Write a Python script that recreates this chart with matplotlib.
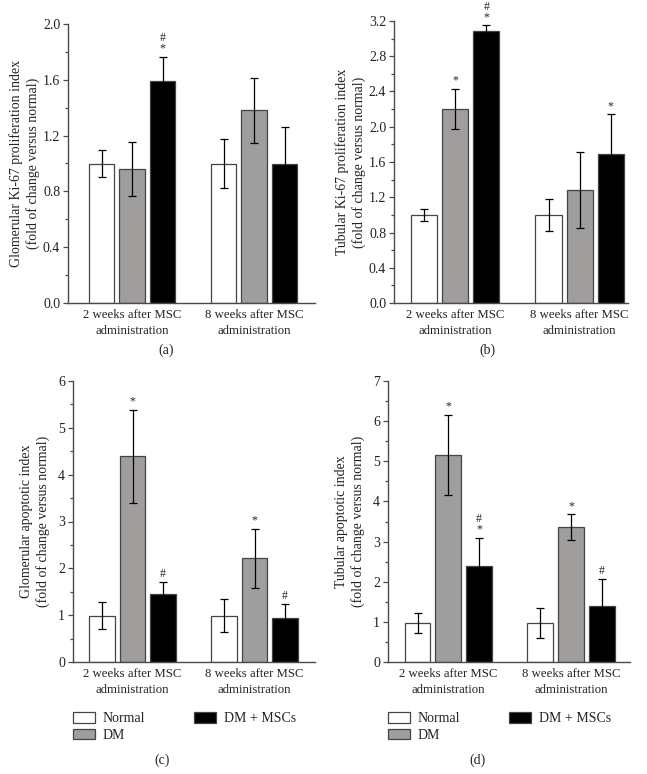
import matplotlib
matplotlib.use("Agg")
import matplotlib.pyplot as plt
from matplotlib.patches import Patch
from matplotlib.ticker import MultipleLocator, FormatStrFormatter

plt.rcParams.update({
    "font.family": ["Liberation Serif", "DejaVu Serif"],
    "font.size": 10,
    "text.color": "#222222",
    "axes.labelcolor": "#222222",
    "xtick.color": "#222222",
    "ytick.color": "#222222",
})

groups = ["2 weeks after MSC\nadministration", "8 weeks after MSC\nadministration"]
series = ["Normal", "DM", "DM + MSCs"]

# (a) glomerular Ki-67
a_mean = [[1.00, 1.00], [0.96, 1.38], [1.59, 1.00]]
a_err = [[0.10, 0.175], [0.195, 0.23], [0.175, 0.26]]
a_marks = [["", ""], ["", ""], ["#\n*", ""]]

# (b) tubular Ki-67
b_mean = [[1.00, 1.00], [2.20, 1.28], [3.09, 1.69]]
b_err = [[0.07, 0.18], [0.23, 0.43], [0.06, 0.45]]
b_marks = [["", ""], ["*", ""], ["#\n*", "*"]]

# (c) glomerular apoptotic
c_mean = [[0.99, 0.99], [4.39, 2.21], [1.45, 0.94]]
c_err = [[0.29, 0.36], [1.00, 0.64], [0.26, 0.30]]
c_marks = [["", ""], ["*", "*"], ["#", "#"]]

# (d) tubular apoptotic
d_mean = [[0.97, 0.97], [5.16, 3.36], [2.39, 1.40]]
d_err = [[0.26, 0.37], [1.00, 0.32], [0.71, 0.67]]
d_marks = [["", ""], ["*", "*"], ["#\n*", "#"]]

FILLS = ["white", "#a09d9d", "black"]
EDGE = "#444444"
SPINE = "#4a4a4a"

W, H = 647, 774
fig = plt.figure(figsize=(W / 100, H / 100), dpi=100)


def px_axes(left, right, top, bottom):
    return fig.add_axes([left / W, 1 - bottom / H, (right - left) / W, (bottom - top) / H])


def panel(ax, means, errs, marks, ylabel, ytop, major, minor, fmt, xlim, tag, tagxy, lpad):
    w, d = 0.21, 0.25
    for i in range(3):
        xs = [g + (i - 1) * d for g in range(2)]
        ax.bar(xs, means[i], width=w, color=FILLS[i], edgecolor=EDGE, linewidth=0.9, zorder=2)
        ax.errorbar(xs, means[i], yerr=errs[i], fmt="none", ecolor="black",
                    elinewidth=0.9, capsize=2.6, capthick=0.9, zorder=3)
        for x, m, e, mk in zip(xs, means[i], errs[i], marks[i]):
            if mk:
                ax.annotate(mk, xy=(x, m + e), xytext=(0, 1.5), textcoords="offset points",
                            ha="center", va="bottom", fontsize=8.5, linespacing=0.85)
    ax.set_xlim(*xlim)
    ax.set_ylim(0, ytop)
    ax.set_xticks([0, 1])
    ax.set_xticklabels(groups, linespacing=1.45, fontsize=9.2)
    ax.tick_params(axis="x", length=0, pad=4)
    ax.yaxis.set_major_locator(MultipleLocator(major))
    ax.yaxis.set_minor_locator(MultipleLocator(minor))
    ax.yaxis.set_major_formatter(FormatStrFormatter(fmt))
    ax.tick_params(axis="y", which="major", length=3.6, width=0.9, color=SPINE, pad=2)
    ax.tick_params(axis="y", which="minor", length=2.0, width=0.9, color=SPINE)
    for s in ("top", "right"):
        ax.spines[s].set_visible(False)
    for s in ("left", "bottom"):
        ax.spines[s].set_color(SPINE)
        ax.spines[s].set_linewidth(1.0)
    ax.set_ylabel(ylabel, linespacing=1.3, labelpad=lpad)
    fig.text(tagxy[0] / W, 1 - tagxy[1] / H, tag, ha="center", va="center", fontsize=10)


ax_a = px_axes(68, 315, 24, 303)
panel(ax_a, a_mean, a_err, a_marks,
      "Glomerular Ki-67 proliferation index\n(fold of change versus normal)",
      2.0, 0.4, 0.2, "%.1f", (-0.525, 1.50), "(a)", (166, 350), 2)

ax_b = px_axes(394, 628, 21, 303)
panel(ax_b, b_mean, b_err, b_marks,
      "Tubular Ki-67 proliferation index\n(fold of change versus normal)",
      3.2, 0.4, 0.2, "%.1f", (-0.494, 1.39), "(b)", (487, 350), 2)

ax_c = px_axes(73, 315, 381, 662)
panel(ax_c, c_mean, c_err, c_marks,
      "Glomerular apoptotic index\n(fold of change versus normal)",
      6, 1, 0.5, "%d", (-0.488, 1.496), "(c)", (162, 760), 6)

ax_d = px_axes(388, 630, 381, 662)
panel(ax_d, d_mean, d_err, d_marks,
      "Tubular apoptotic index\n(fold of change versus normal)",
      7, 1, 0.5, "%d", (-0.491, 1.48), "(d)", (478, 760), 6)

handles = [Patch(facecolor=FILLS[i], edgecolor=EDGE, linewidth=0.9) for i in range(3)]
for lx in (73, 388):
    fig.legend(handles, series, loc="upper left", bbox_to_anchor=(lx / W, 1 - 712 / H),
               ncol=2, frameon=False, borderpad=0, handlelength=1.6, handleheight=0.8,
               handletextpad=0.55, labelspacing=0.25, columnspacing=3.5, fontsize=10,
               borderaxespad=0)

fig.savefig("out.png", dpi=100)
